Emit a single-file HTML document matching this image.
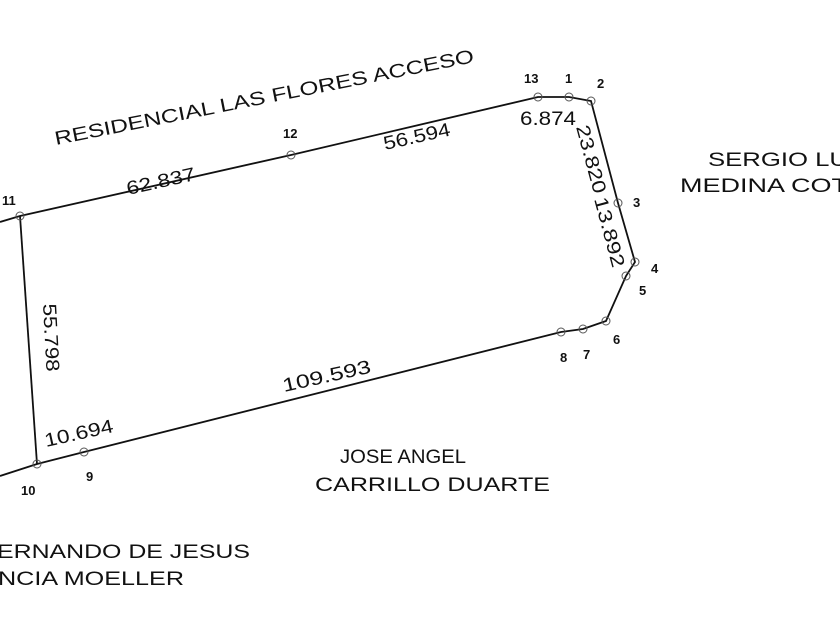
<!DOCTYPE html>
<html><head><meta charset="utf-8"><style>
html,body{margin:0;padding:0;background:#fff;}
svg{display:block;}
text{font-family:"Liberation Sans",Arial,sans-serif;fill:#111;}
</style></head><body>
<svg width="840" height="630" viewBox="0 0 840 630" xmlns="http://www.w3.org/2000/svg">
<g fill="none" stroke="#111" stroke-width="1.8">
<polyline points="0,222 20,216 291,155 538,97 569,97 591,101 618,203 635,262 626,276 606,321 583,329 561,332 84,452 37,464 0,476"/>
<line x1="20" y1="216" x2="37" y2="464"/>
</g>
<g fill="none" stroke="#555" stroke-width="1">
<circle cx="20" cy="216" r="4"/><circle cx="291" cy="155" r="4"/><circle cx="538" cy="97" r="4"/>
<circle cx="569" cy="97" r="4"/><circle cx="591" cy="101" r="4"/><circle cx="618" cy="203" r="4"/>
<circle cx="635" cy="262" r="4"/><circle cx="626" cy="276" r="4"/><circle cx="606" cy="321" r="4"/>
<circle cx="583" cy="329" r="4"/><circle cx="561" cy="332" r="4"/><circle cx="84" cy="452" r="4"/>
<circle cx="37" cy="464" r="4"/>
</g>
<g font-size="13" font-weight="bold">
<text x="2" y="205">11</text><text x="283" y="138">12</text><text x="524" y="83">13</text>
<text x="565" y="83">1</text><text x="597" y="88">2</text><text x="633" y="207">3</text>
<text x="651" y="273">4</text><text x="639" y="295">5</text><text x="613" y="344">6</text>
<text x="583" y="359">7</text><text x="560" y="362">8</text><text x="86" y="481">9</text>
<text x="21" y="495">10</text>
</g>
<g font-size="19">
<text transform="translate(56,145) rotate(-11.2)" textLength="427" lengthAdjust="spacingAndGlyphs">RESIDENCIAL LAS FLORES ACCESO</text>
<text transform="translate(128,195) rotate(-12.5)" textLength="70" lengthAdjust="spacingAndGlyphs">62.837</text>
<text transform="translate(385,150) rotate(-12.5)" textLength="68" lengthAdjust="spacingAndGlyphs">56.594</text>
<text x="520" y="125" textLength="56" lengthAdjust="spacingAndGlyphs">6.874</text>
<text transform="translate(576,127) rotate(75)" textLength="70" lengthAdjust="spacingAndGlyphs">23.820</text>
<text transform="translate(594,199) rotate(75)" textLength="72" lengthAdjust="spacingAndGlyphs">13.892</text>
<text transform="translate(43,304) rotate(87)" textLength="68" lengthAdjust="spacingAndGlyphs">55.798</text>
<text transform="translate(46,447) rotate(-12.5)" textLength="70" lengthAdjust="spacingAndGlyphs">10.694</text>
<text transform="translate(284,392) rotate(-12.5)" textLength="90" lengthAdjust="spacingAndGlyphs">109.593</text>
<text x="708" y="166" textLength="140" lengthAdjust="spacingAndGlyphs">SERGIO LU</text>
<text x="680" y="192" textLength="168" lengthAdjust="spacingAndGlyphs">MEDINA COT</text>
<text x="340" y="463" textLength="126" lengthAdjust="spacingAndGlyphs">JOSE ANGEL</text>
<text x="315" y="491" textLength="235" lengthAdjust="spacingAndGlyphs">CARRILLO DUARTE</text>
<text x="-3" y="558" textLength="253" lengthAdjust="spacingAndGlyphs">ERNANDO DE JESUS</text>
<text x="-2" y="585" textLength="186" lengthAdjust="spacingAndGlyphs">NCIA MOELLER</text>
</g>
</svg>
</body></html>
